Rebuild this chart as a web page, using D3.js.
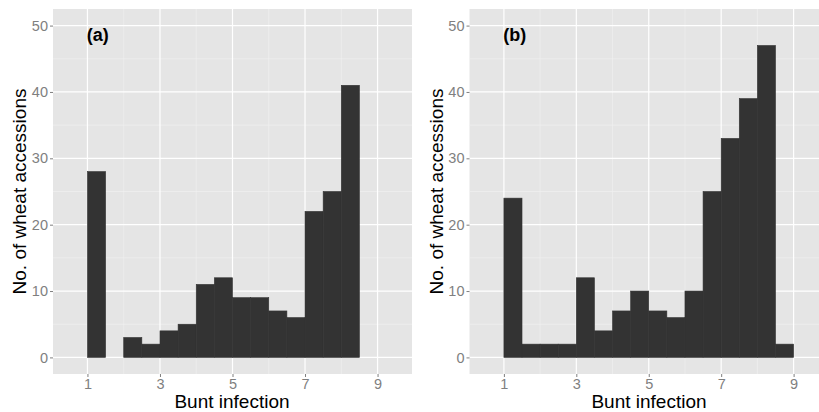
<!DOCTYPE html>
<html>
<head>
<meta charset="utf-8">
<script src="https://cdn.jsdelivr.net/npm/d3@7"></script>
<style>
  body { margin: 0; background: #fff; }
  text { font-family: "Liberation Sans", Arial, sans-serif; }
</style>
</head>
<body>
<div id="chart"></div>
<script>
// histogram bins (left edge), width 0.5
const binStarts = [1, 1.5, 2, 2.5, 3, 3.5, 4, 4.5, 5, 5.5, 6, 6.5, 7, 7.5, 8, 8.5];
const binWidth = 0.5;
const countsA = [28, 0, 3, 2, 4, 5, 11, 12, 9, 9, 7, 6, 22, 25, 41];
const countsB = [24, 2, 2, 2, 12, 4, 7, 10, 7, 6, 10, 25, 33, 39, 47, 2];
const panelLabels = ["(a)", "(b)"];
const xTicks = [1, 3, 5, 7, 9];
const xMinor = [2, 4, 6, 8];
const yTicks = [0, 10, 20, 30, 40, 50];
const yMinor = [5, 15, 25, 35, 45];

const width = 819, height = 412;
const svg = d3.select("#chart").append("svg")
    .attr("width", width)
    .attr("height", height);

const panels = [
    { label: panelLabels[0], counts: countsA, left: 53, right: 412, titleX: 25.5, xTitle: 232 },
    { label: panelLabels[1], counts: countsB, left: 469.5, right: 828, titleX: 443, xTitle: 649 }
];
const panelTop = 9, panelBottom = 374;

panels.forEach(p => {
    const x = d3.scaleLinear().domain([0.05, 9.95]).range([p.left, p.right]);
    const y = d3.scaleLinear().domain([-2.5, 52.5]).range([panelBottom, panelTop]);
    const g = svg.append("g");

    // panel background
    g.append("rect")
        .attr("x", p.left).attr("y", panelTop)
        .attr("width", p.right - p.left).attr("height", panelBottom - panelTop)
        .attr("fill", "#e5e5e5");

    // grid lines
    g.selectAll(".vminor").data(xMinor).join("line")
        .attr("x1", d => x(d)).attr("x2", d => x(d))
        .attr("y1", panelTop).attr("y2", panelBottom)
        .attr("stroke", "#f2f2f2").attr("stroke-width", 0.6);
    g.selectAll(".hminor").data(yMinor).join("line")
        .attr("x1", p.left).attr("x2", p.right)
        .attr("y1", d => y(d)).attr("y2", d => y(d))
        .attr("stroke", "#f2f2f2").attr("stroke-width", 0.6);
    g.selectAll(".vmajor").data(xTicks).join("line")
        .attr("x1", d => x(d)).attr("x2", d => x(d))
        .attr("y1", panelTop).attr("y2", panelBottom)
        .attr("stroke", "#fff").attr("stroke-width", 1.2);
    g.selectAll(".hmajor").data(yTicks).join("line")
        .attr("x1", p.left).attr("x2", p.right)
        .attr("y1", d => y(d)).attr("y2", d => y(d))
        .attr("stroke", "#fff").attr("stroke-width", 1.2);

    // bars
    g.selectAll(".bar").data(p.counts.map((c, i) => ({ x0: binStarts[i], n: c })))
        .join("rect")
        .attr("x", d => x(d.x0))
        .attr("width", d => x(d.x0 + binWidth) - x(d.x0))
        .attr("y", d => y(d.n))
        .attr("height", d => y(0) - y(d.n))
        .attr("fill", "#333333")
        .attr("stroke", "#333333")
        .attr("stroke-width", 0.6);

    // axes
    const xAxis = g.append("g")
        .attr("transform", `translate(0,${panelBottom})`)
        .call(d3.axisBottom(x).tickValues(xTicks).tickSize(3).tickPadding(2).tickFormat(d3.format("d")));
    const yAxis = g.append("g")
        .attr("transform", `translate(${p.left},0)`)
        .call(d3.axisLeft(y).tickValues(yTicks).tickSize(3).tickPadding(2).tickFormat(d3.format("d")));
    [xAxis, yAxis].forEach(a => {
        a.select(".domain").remove();
        a.selectAll(".tick line").attr("stroke", "#7f7f7f");
        a.selectAll(".tick text")
            .attr("fill", "#7f7f7f")
            .attr("font-size", 14.5)
            .style("font-family", "'Liberation Sans', Arial, sans-serif");
    });

    // panel tag
    g.append("text")
        .attr("x", x(0.98)).attr("y", 41)
        .attr("font-size", 18).attr("font-weight", "bold")
        .text(p.label);

    // axis titles
    g.append("text")
        .attr("x", p.xTitle)
        .attr("y", 408)
        .attr("text-anchor", "middle")
        .attr("font-size", 19)
        .text("Bunt infection");
    g.append("text")
        .attr("transform", `translate(${p.titleX},${(panelTop + panelBottom) / 2}) rotate(-90)`)
        .attr("text-anchor", "middle")
        .attr("font-size", 19)
        .text("No. of wheat accessions");
});
</script>
</body>
</html>
